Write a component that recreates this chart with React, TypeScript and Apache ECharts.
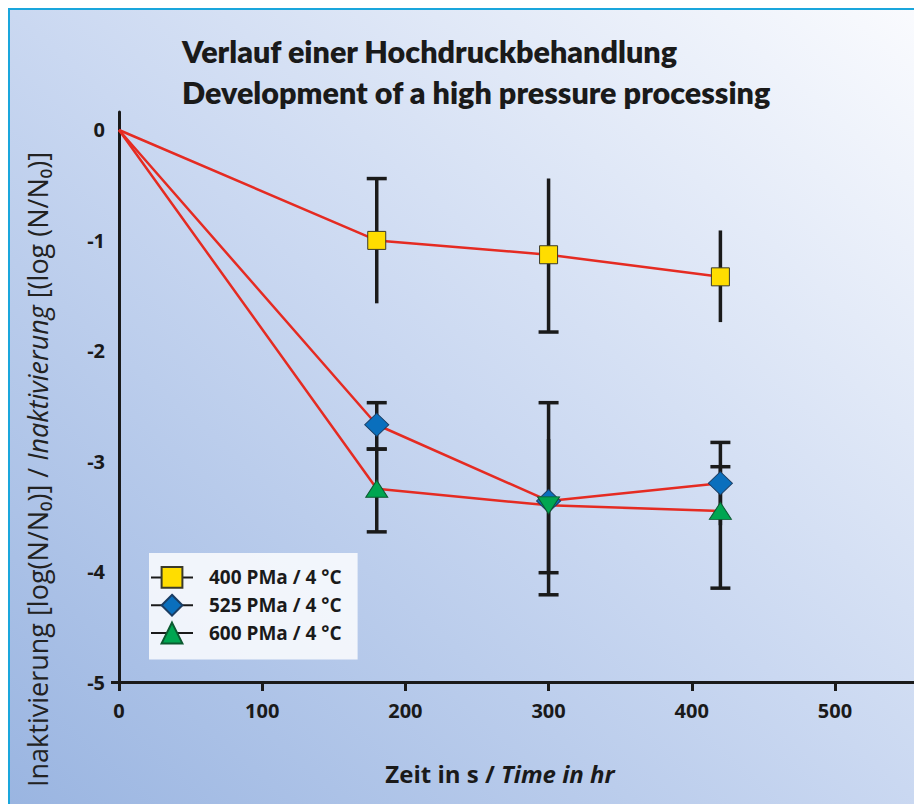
import React, { useEffect, useRef } from 'react';
import * as echarts from 'echarts';

const titleLines = ['Verlauf einer Hochdruckbehandlung', 'Development of a high pressure processing'];
const times = [0, 180, 300, 420];
const seriesNames = ['400 PMa / 4 °C', '525 PMa / 4 °C', '600 PMa / 4 °C'];
const values400 = [0, -1.0, -1.13, -1.33];
const values525 = [0, -2.67, -3.36, -3.2];
const values600 = [0, -3.25, -3.4, -3.45];
// error bars: [time, upper, lower, capUpper, capLower]
const err400 = [[180, -0.44, -1.57, 1, 0], [300, -0.44, -1.83, 0, 1], [420, -0.91, -1.74, 0, 0]];
const err525 = [[180, -2.47, -2.89, 1, 1], [300, -2.47, -4.21, 1, 1], [420, -2.83, -3.58, 1, 0]];
const err600 = [[180, -2.89, -3.64, 1, 1], [300, -2.8, -4.01, 0, 1], [420, -3.05, -4.15, 1, 1]];
const xTicks = [0, 100, 200, 300, 400, 500];
const yTicks = [0, -1, -2, -3, -4, -5];

const condensed = "'Liberation Sans Narrow', 'Open Sans', sans-serif";
const labelFont = "'Open Sans', 'DejaVu Sans', sans-serif";
const dark = '#1a1a1a';

function toPoints(vals: number[], rotated?: number) {
  return vals.map((v, i) => {
    const item: any = { value: [times[i], v] };
    if (i === 0) item.symbol = 'none';
    if (rotated === i) item.symbolRotate = 180;
    return item;
  });
}

export default function App() {
  const ref = useRef<HTMLDivElement>(null);
  useEffect(() => {
    if (!ref.current) return;
    const chart = echarts.init(ref.current, undefined, { renderer: 'svg' });
    const errRender = (params: any, api: any) => {
      const x = api.value(0), hi = api.value(1), lo = api.value(2);
      const capHi = api.value(3), capLo = api.value(4);
      const a = api.coord([x, hi]);
      const b = api.coord([x, lo]);
      const st = { stroke: dark, lineWidth: 3.5 };
      const children: any[] = [
        { type: 'line', shape: { x1: a[0], y1: a[1], x2: b[0], y2: b[1] }, style: st },
      ];
      if (capHi) children.push({ type: 'line', shape: { x1: a[0] - 10, y1: a[1], x2: a[0] + 10, y2: a[1] }, style: st });
      if (capLo) children.push({ type: 'line', shape: { x1: b[0] - 10, y1: b[1], x2: b[0] + 10, y2: b[1] }, style: st });
      return { type: 'group', children };
    };
    const lineBase = {
      type: 'line',
      lineStyle: { color: '#e52b22', width: 2.5 },
      z: 3,
    };
    chart.setOption({
      animation: false,
      backgroundColor: {
        type: 'linear', x: 0, y: 1, x2: 1, y2: 0,
        colorStops: [
          { offset: 0, color: '#9ab5e1' },
          { offset: 0.5, color: '#cad8f1' },
          { offset: 1, color: '#fafbfe' },
        ],
      },
      title: {
        text: titleLines.join('\n'),
        left: 172,
        top: 20,
        padding: 0,
        textStyle: { fontFamily: 'Lato', fontWeight: 800, fontSize: 30.5, lineHeight: 41, color: dark },
      },
      grid: { left: 109, right: 4, top: 102, bottom: 122 },
      xAxis: {
        type: 'value', min: 0, max: 558, interval: 100,
        axisLine: { onZero: false, lineStyle: { color: dark, width: 3 } },
        axisTick: { customValues: xTicks, length: 9, lineStyle: { color: dark, width: 3 } },
        axisLabel: { customValues: xTicks, margin: 18, fontFamily: condensed, fontWeight: 'bold', fontSize: 20, color: dark },
        splitLine: { show: false },
      },
      yAxis: {
        type: 'value', min: -5, max: 0.163, interval: 1,
        axisLine: { show: true, onZero: false, lineStyle: { color: dark, width: 3 } },
        axisTick: { show: true, customValues: [-5], length: 8, lineStyle: { color: dark, width: 3 } },
        axisLabel: { customValues: yTicks, margin: 14, fontFamily: condensed, fontWeight: 'bold', fontSize: 20, color: dark },
        splitLine: { show: false },
      },
      legend: {
        data: seriesNames,
        orient: 'vertical',
        left: 139,
        top: 543,
        padding: [13, 16, 15, 1],
        itemGap: 5,
        itemWidth: 42,
        itemHeight: 26,
        backgroundColor: 'rgba(255,255,255,0.82)',
        lineStyle: { color: dark, width: 2 },
        textStyle: { fontFamily: condensed, fontWeight: 'bold', fontSize: 19, color: dark, padding: [0, 0, 0, 11] },
      },
      graphic: [
        {
          type: 'text',
          x: 27, y: 142, rotation: Math.PI / 2,
          style: {
            text: '{a|Inaktivierung [log(N/N₀)] / }{b|Inaktivierung}{a| [(log (N/N₀)]}',
            fontFamily: labelFont,
            fontSize: 27,
            fill: '#222',
            align: 'right', verticalAlign: 'middle',
            rich: {
              a: { fontFamily: labelFont, fontSize: 27, fill: '#222' },
              b: { fontFamily: labelFont, fontSize: 27, fontStyle: 'italic', fill: '#222' },
            },
          },
        },
        {
          type: 'text',
          x: 490, y: 763,
          style: {
            text: '{a|Zeit in s / }{b|Time in hr}',
            align: 'center', verticalAlign: 'middle',
            rich: {
              a: { fontFamily: condensed, fontWeight: 'bold', fontSize: 24, fill: dark },
              b: { fontFamily: condensed, fontWeight: 'bold', fontStyle: 'italic', fontSize: 24, fill: dark },
            },
          },
        },
      ],
      series: [
        { type: 'custom', name: 'err400', renderItem: errRender, data: err400, encode: { x: 0, y: [1, 2] }, z: 1, silent: true },
        { type: 'custom', name: 'err525', renderItem: errRender, data: err525, encode: { x: 0, y: [1, 2] }, z: 1, silent: true },
        { type: 'custom', name: 'err600', renderItem: errRender, data: err600, encode: { x: 0, y: [1, 2] }, z: 1, silent: true },
        {
          ...lineBase, name: seriesNames[0], data: toPoints(values400),
          symbol: 'rect', symbolSize: 18,
          itemStyle: { color: '#ffdd00', borderColor: '#3a3a2a', borderWidth: 1 },
        },
        {
          ...lineBase, name: seriesNames[1], data: toPoints(values525),
          symbol: 'diamond', symbolSize: [24, 23],
          itemStyle: { color: '#0a6fbd', borderColor: '#1b3d63', borderWidth: 1 },
        },
        {
          ...lineBase, name: seriesNames[2], data: toPoints(values600, 2),
          symbol: 'triangle', symbolSize: [22, 17],
          itemStyle: { color: '#00a651', borderColor: '#0c5a31', borderWidth: 1 },
        },
      ],
    });
    return () => chart.dispose();
  }, []);
  return (
    <div style={{ width: 914, height: 796, borderTop: '2px solid #1aa6dc', borderLeft: '2px solid #1aa6dc', boxSizing: 'border-box' }}>
      <div ref={ref} style={{ width: 912, height: 794 }} />
    </div>
  );
}
